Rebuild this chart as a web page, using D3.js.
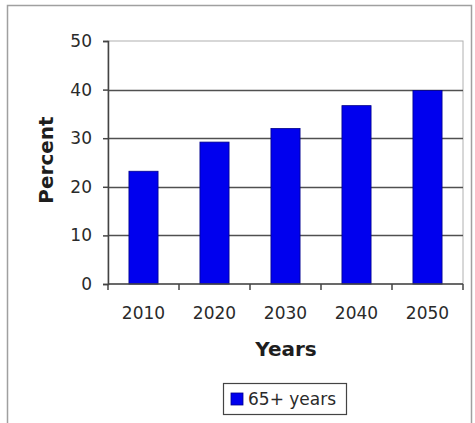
<!DOCTYPE html>
<html>
<head>
	<meta charset="utf-8">
	<title>65+ years by decade</title>
	<style>
		body { margin: 0; background: #fff; }
		svg { display: block; }
		text { font-family: 'DejaVu Sans', Verdana, sans-serif; fill: #2a2a2a; }
	</style>
	<script src="https://d3js.org/d3.v7.min.js"></script>
</head>
<body>
	<svg width="475" height="423"></svg>
<script>
	// data
	let years = ['2010', '2020', '2030', '2040', '2050']
	let values = [23.2, 29.2, 32.0, 36.7, 39.8]
	let yTicks = [0, 10, 20, 30, 40, 50]
	let seriesName = '65+ years'

	let width = 475
	let height = 423
	let margin = {top: 41, right: 12, bottom: 139, left: 108}
	let plotW = width - margin.left - margin.right
	let plotH = height - margin.top - margin.bottom

	let svg = d3.select('svg')

	// outer chart border
	svg.append('rect')
		.attr('x', 7.5)
		.attr('y', 5.5)
		.attr('width', 464)
		.attr('height', 430)
		.style('fill', '#fff')
		.style('stroke', '#a0a0a0')
		.style('stroke-width', 1.5)

	let g = svg.append('g')
		.attr('transform', `translate(${margin.left},${margin.top})`)

	let x = d3.scaleBand()
		.domain(years)
		.range([0, plotW])
		.paddingInner(0.59)
		.paddingOuter(0.295)

	let y = d3.scaleLinear()
		.domain([0, 50])
		.range([plotH, 0])

	// plot area border (light)
	g.append('rect')
		.attr('width', plotW)
		.attr('height', plotH)
		.style('fill', '#fff')
		.style('stroke', '#b0b0b0')
		.style('stroke-width', 1)

	// gridlines
	g.append('g')
		.selectAll('line')
		.data(yTicks.filter(d => d > 0 && d < 50))
		.join('line')
		.attr('x1', 0)
		.attr('x2', plotW)
		.attr('y1', d => Math.round(y(d)) + 0.5)
		.attr('y2', d => Math.round(y(d)) + 0.5)
		.style('stroke', '#505050')
		.style('stroke-width', 1.5)

	// bars
	g.append('g')
		.selectAll('rect')
		.data(values)
		.join('rect')
		.attr('x', (d, i) => x(years[i]))
		.attr('y', d => y(d))
		.attr('width', x.bandwidth())
		.attr('height', d => plotH - y(d))
		.style('fill', '#0000ee')
		.style('stroke', '#00008a')
		.style('stroke-width', 0.8)

	// y axis
	let yAxis = g.append('g')
		.call(d3.axisLeft(y).tickValues(yTicks).tickSize(5).tickPadding(11))
	yAxis.select('.domain').style('stroke', '#444').style('stroke-width', 1.5)
	yAxis.selectAll('.tick line').style('stroke', '#444').style('stroke-width', 1.5)
	yAxis.selectAll('.tick text')
		.style('font-size', '17px')
		.style('font-family', "'DejaVu Sans', Verdana, sans-serif")
		.style('fill', '#2a2a2a')

	// x axis, ticks sit on the category boundaries
	let xAxis = g.append('g')
		.attr('transform', `translate(0,${plotH})`)
	xAxis.append('line')
		.attr('x1', 0)
		.attr('x2', plotW)
		.style('stroke', '#444')
		.style('stroke-width', 1.5)
	let bounds = years.map((d, i) => x(d) - x.step() * x.paddingInner() / 2).concat([plotW])
	xAxis.selectAll('.xtick')
		.data(bounds)
		.join('line')
		.attr('class', 'xtick')
		.attr('x1', d => d)
		.attr('x2', d => d)
		.attr('y1', 0)
		.attr('y2', 6)
		.style('stroke', '#444')
		.style('stroke-width', 1.5)
	xAxis.selectAll('.xlabel')
		.data(years)
		.join('text')
		.attr('class', 'xlabel')
		.attr('x', d => x(d) + x.bandwidth() / 2)
		.attr('y', 35)
		.attr('text-anchor', 'middle')
		.style('font-size', '17px')
		.text(d => d)

	// axis titles
	svg.append('text')
		.attr('x', 286)
		.attr('y', 356)
		.attr('text-anchor', 'middle')
		.style('font-size', '20px')
		.style('font-weight', 'bold')
		.style('fill', '#1e1e1e')
		.text('Years')

	svg.append('text')
		.attr('transform', 'translate(53,160) rotate(-90)')
		.attr('text-anchor', 'middle')
		.style('font-size', '20px')
		.style('font-weight', 'bold')
		.style('fill', '#1e1e1e')
		.text('Percent')

	// legend
	let legend = svg.append('g')
	legend.append('rect')
		.attr('x', 223.5)
		.attr('y', 383.5)
		.attr('width', 123)
		.attr('height', 31)
		.style('fill', '#fff')
		.style('stroke', '#444')
		.style('stroke-width', 1.2)
	legend.append('rect')
		.attr('x', 231)
		.attr('y', 393)
		.attr('width', 12)
		.attr('height', 12)
		.style('fill', '#0000ee')
		.style('stroke', '#00008a')
		.style('stroke-width', 0.8)
	legend.append('text')
		.attr('x', 248)
		.attr('y', 405)
		.style('font-size', '17px')
		.text(seriesName)
</script>
</body>
</html>
